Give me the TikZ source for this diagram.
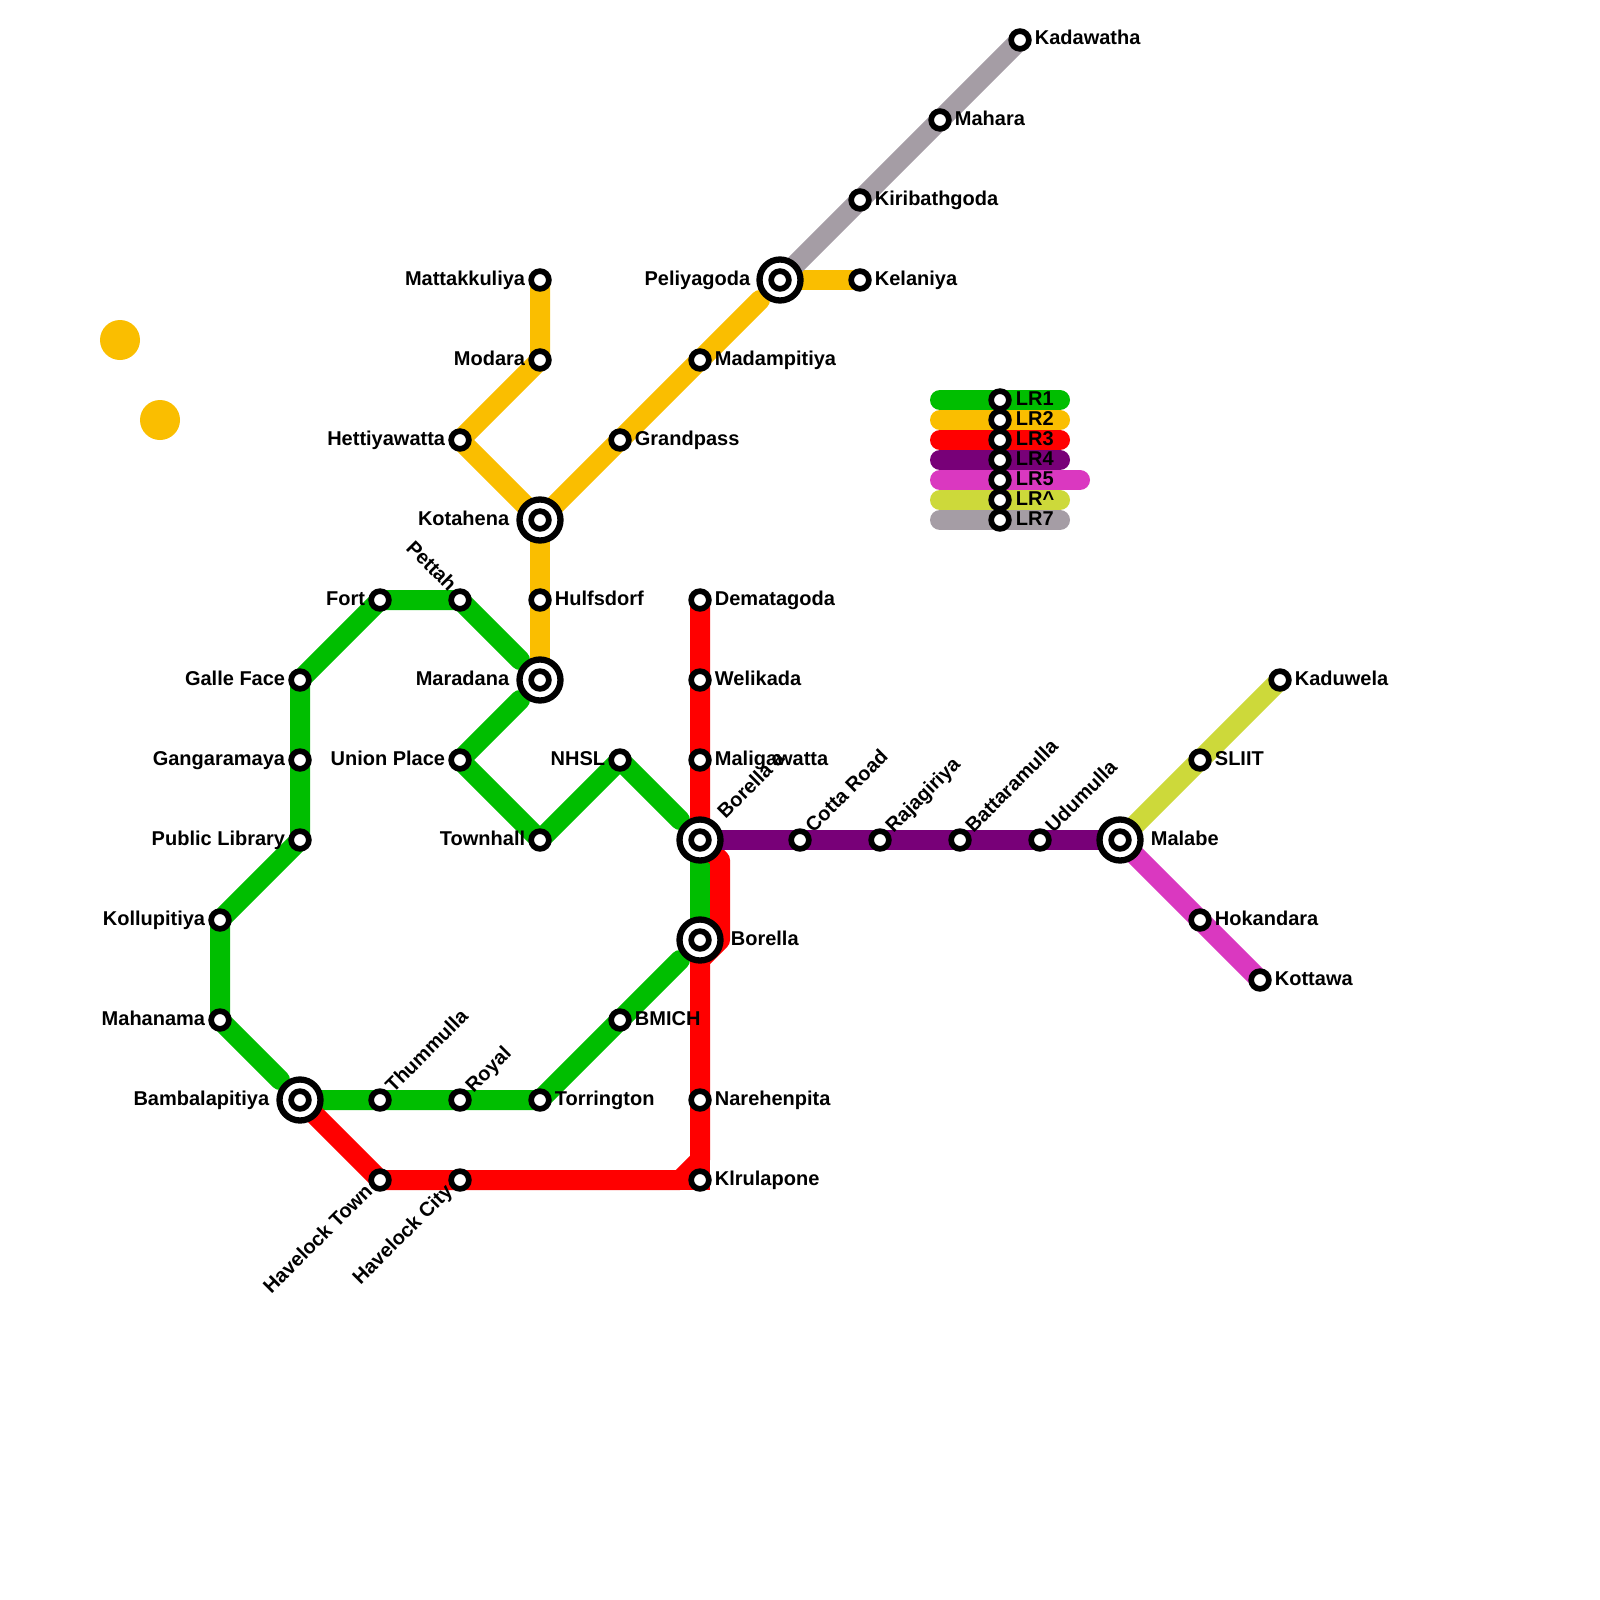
\documentclass[tikz,border=0pt]{standalone}
\usepackage{fontspec}
\setmainfont{Liberation Sans}
\usepackage{xcolor}
\definecolor{cLrA}{HTML}{00BE00}
\definecolor{cLrB}{HTML}{FABE00}
\definecolor{cLrC}{HTML}{FF0000}
\definecolor{cLrD}{HTML}{780078}
\definecolor{cLrE}{HTML}{DA38C0}
\definecolor{cLrF}{HTML}{CDD93A}
\definecolor{cLrG}{HTML}{A59DA5}
\usetikzlibrary{positioning, backgrounds}

\begin{document}
\begin{tikzpicture}[
    x=20pt, y=-20pt,
    line/.style  = {line width=20pt, line cap=round, line join=round},
    stn/.style   = {circle, draw=black, fill=white, line width=5.7pt,
                    minimum size=17.7pt, inner sep=0pt},
    hub/.style   = {circle, draw=black, fill=white, line width=6.3pt,
                    minimum size=41pt, inner sep=0pt},
    dot/.style   = {circle, fill=cLrB, minimum size=40pt, inner sep=0pt},
    txt/.style   = {font=\bfseries\fontsize{20}{24}\selectfont, inner sep=0pt,
                    text height=14pt, text depth=4pt},
    up/.style    = {txt, rotate=45, anchor=west},
    dn/.style    = {txt, rotate=45, anchor=east},
    back/.style  = {txt, rotate=-45, anchor=east}
]
\useasboundingbox (0,0) rectangle (80,80);

% --- Stations: LR1 ---------------------------------------------------------
\node[hub] (bamb)  at (15,55) {};
\node[stn] (thum)  at (19,55) {};
\node[stn] (roya)  at (23,55) {};
\node[stn] (torr)  at (27,55) {};
\node[stn] (bmic)  at (31,51) {};
\node[hub] (bora)  at (35,47) {};
\node[hub] (borb)  at (35,42) {};
\node[stn] (nhsl)  at (31,38) {};
\node[stn] (town)  at (27,42) {};
\node[stn] (unio)  at (23,38) {};
\node[hub] (mara)  at (27,34) {};
\node[stn] (pett)  at (23,30) {};
\node[stn] (fort)  at (19,30) {};
\node[stn] (gall)  at (15,34) {};
\node[stn] (gang)  at (15,38) {};
\node[stn] (publ)  at (15,42) {};
\node[stn] (koll)  at (11,46) {};
\node[stn] (maha)  at (11,51) {};

% --- Stations: LR2 and LR7 -------------------------------------------------
\node[stn] (matt)  at (27,14) {};
\node[stn] (moda)  at (27,18) {};
\node[stn] (hett)  at (23,22) {};
\node[hub] (kota)  at (27,26) {};
\node[stn] (hulf)  at (27,30) {};
\node[stn] (gran)  at (31,22) {};
\node[stn] (mada)  at (35,18) {};
\node[hub] (peli)  at (39,14) {};
\node[stn] (kela)  at (43,14) {};
\node[stn] (kiri)  at (43,10) {};
\node[stn] (mahr)  at (47,6)  {};
\node[stn] (kada)  at (51,2)  {};

% --- Stations: LR3 and LR4 -------------------------------------------------
\node[stn] (dema)  at (35,30) {};
\node[stn] (weli)  at (35,34) {};
\node[stn] (mali)  at (35,38) {};
\node[stn] (nare)  at (35,55) {};
\node[stn] (klru)  at (35,59) {};
\node[stn] (havc)  at (23,59) {};
\node[stn] (havt)  at (19,59) {};
\node[stn] (cott)  at (40,42) {};
\node[stn] (raja)  at (44,42) {};
\node[stn] (batt)  at (48,42) {};
\node[stn] (udum)  at (52,42) {};
\node[hub] (mala)  at (56,42) {};

% --- Stations: LR5 and LR^ -------------------------------------------------
\node[stn] (hoka)  at (60,46) {};
\node[stn] (kott)  at (63,49) {};
\node[stn] (slii)  at (60,38) {};
\node[stn] (kadu)  at (64,34) {};

% --- Key -------------------------------------------------------------------
\node[stn] (keya)  at (50,20) {};
\node[stn] (keyb)  at (50,21) {};
\node[stn] (keyc)  at (50,22) {};
\node[stn] (keyd)  at (50,23) {};
\node[stn] (keye)  at (50,24) {};
\node[stn] (keyf)  at (50,25) {};
\node[stn] (keyg)  at (50,26) {};

% --- Inner rings of the interchanges ---------------------------------------
\node[stn] (bambi) at (bamb) {};
\node[stn] (borai) at (bora) {};
\node[stn] (borbi) at (borb) {};
\node[stn] (marai) at (mara) {};
\node[stn] (kotai) at (kota) {};
\node[stn] (pelii) at (peli) {};
\node[stn] (malai) at (mala) {};

% --- Free ends of the segments ---------------------------------------------
\coordinate (bambe) at (14,54);
\coordinate (borae) at (34,48);
\coordinate (borbe) at (34,41);
\coordinate (marau) at (26,33);
\coordinate (marad) at (26,35);
\coordinate (pelie) at (38,15);
\coordinate (redta) at (36,43);
\coordinate (redtb) at (36,47);
\coordinate (redtc) at (35,48);
\coordinate (redbc) at (35,58);
\coordinate (redbd) at (34,59);

% --- Two loose dots --------------------------------------------------------
\node[dot] (dota) at (6,17) {};
\node[dot] (dotb) at (8,21) {};

% --- Lines (under the stations) --------------------------------------------
\begin{scope}[on background layer]
  % LR1 runs in three pieces, stopping short of the rings
  \draw[line, cLrA] (bamb.center) -- (torr.center) -- (bmic.center) -- (borae);
  \draw[line, cLrA] (bora.center) -- (borb.center);
  \draw[line, cLrA] (borbe) -- (nhsl.center) -- (town.center) -- (unio.center) -- (marad);
  \draw[line, cLrA] (marau) -- (pett.center) -- (fort.center) -- (gall.center)
    -- (publ.center) -- (koll.center) -- (maha.center) -- (bambe);
  % LR2
  \draw[line, cLrB] (matt.center) -- (moda.center) -- (hett.center) -- (kota.center);
  \draw[line, cLrB] (kota.center) -- (mara.center);
  \draw[line, cLrB] (kota.center) -- (gran.center) -- (mada.center) -- (pelie);
  \draw[line, cLrB] (peli.center) -- (kela.center);
  % LR7
  \draw[line, cLrG] (peli.center) -- (kiri.center) -- (kada.center);
  % LR3, the square corner at the bottom comes separately
  \draw[line, cLrC] (dema.center) -- (borb.center) -- (redta) -- (redtb) -- (redtc)
    -- (redbc) -- (redbd) -- (havt.center) -- (bamb.center);
  \draw[cLrC, line width=20pt, line join=miter] (redbc) -- (klru.center) -- (redbd);
  % LR4, LR5, LR^
  \draw[line, cLrD] (borb.center) -- (mala.center);
  \draw[line, cLrE] (mala.center) -- (kott.center);
  \draw[line, cLrF] (mala.center) -- (kadu.center);
  % key bars
  \draw[line, cLrA] ([xshift=-60pt]keya.center) -- ([xshift=60pt]keya.center);
  \draw[line, cLrB] ([xshift=-60pt]keyb.center) -- ([xshift=60pt]keyb.center);
  \draw[line, cLrC] ([xshift=-60pt]keyc.center) -- ([xshift=60pt]keyc.center);
  \draw[line, cLrD] ([xshift=-60pt]keyd.center) -- ([xshift=60pt]keyd.center);
  \draw[line, cLrE] ([xshift=-60pt]keye.center) -- ([xshift=80pt]keye.center);
  \draw[line, cLrF] ([xshift=-60pt]keyf.center) -- ([xshift=60pt]keyf.center);
  \draw[line, cLrG] ([xshift=-60pt]keyg.center) -- ([xshift=60pt]keyg.center);
\end{scope}

% --- Labels: to the left ---------------------------------------------------
\node[txt, left=3pt of fort] (fortt) {Fort};
\node[txt, left=3pt of gall] (gallt) {Galle Face};
\node[txt, left=3pt of gang] (gangt) {Gangaramaya};
\node[txt, left=3pt of publ] (publt) {Public Library};
\node[txt, left=3pt of koll] (kollt) {Kollupitiya};
\node[txt, left=3pt of maha] (mahat) {Mahanama};
\node[txt, left=7pt of bamb] (bambt) {Bambalapitiya};
\node[txt, left=3pt of matt] (mattt) {Mattakkuliya};
\node[txt, left=3pt of moda] (modat) {Modara};
\node[txt, left=3pt of hett] (hettt) {Hettiyawatta};
\node[txt, left=7pt of kota] (kotat) {Kotahena};
\node[txt, left=7pt of mara] (marat) {Maradana};
\node[txt, left=3pt of unio] (uniot) {Union Place};
\node[txt, left=3pt of town] (townt) {Townhall};
\node[txt, left=3pt of nhsl] (nhslt) {NHSL};
\node[txt, left=6pt of peli] (pelit) {Peliyagoda};

% --- Labels: to the right --------------------------------------------------
\node[txt, right=3pt of hulf] (hulft) {Hulfsdorf};
\node[txt, right=3pt of gran] (grant) {Grandpass};
\node[txt, right=3pt of mada] (madat) {Madampitiya};
\node[txt, right=3pt of kela] (kelat) {Kelaniya};
\node[txt, right=3pt of kiri] (kirit) {Kiribathgoda};
\node[txt, right=3pt of mahr] (mahrt) {Mahara};
\node[txt, right=3pt of kada] (kadat) {Kadawatha};
\node[txt, right=3pt of dema] (demat) {Dematagoda};
\node[txt, right=3pt of weli] (welit) {Welikada};
\node[txt, right=3pt of mali] (malit) {Maligawatta};
\node[txt, right=7pt of bora] (borat) {Borella};
\node[txt, right=3pt of bmic] (bmict) {BMICH};
\node[txt, right=3pt of torr] (torrt) {Torrington};
\node[txt, right=3pt of nare] (naret) {Narehenpita};
\node[txt, right=3pt of klru] (klrut) {Klrulapone};
\node[txt, right=7pt of mala] (malat) {Malabe};
\node[txt, right=3pt of hoka] (hokat) {Hokandara};
\node[txt, right=3pt of kott] (kottt) {Kottawa};
\node[txt, right=3pt of slii] (sliit) {SLIIT};
\node[txt, right=3pt of kadu] (kadut) {Kaduwela};

% --- Labels: slanted -------------------------------------------------------
\node[up] (thumt) at ([shift={(10pt,10pt)}]thum.center) {Thummulla};
\node[up] (royat) at ([shift={(10pt,10pt)}]roya.center) {Royal};
\node[up] (cottt) at ([shift={(10pt,10pt)}]cott.center) {Cotta Road};
\node[up] (rajat) at ([shift={(10pt,10pt)}]raja.center) {Rajagiriya};
\node[up] (battt) at ([shift={(10pt,10pt)}]batt.center) {Battaramulla};
\node[up] (udumt) at ([shift={(10pt,10pt)}]udum.center) {Udumulla};
\node[up] (borbt) at ([shift={(22pt,24pt)}]borb.center) {Borella a};
\node[dn] (havtt) at ([shift={(-10pt,-9pt)}]havt.center) {Havelock Town};
\node[dn] (havct) at ([shift={(-10pt,-9pt)}]havc.center) {Havelock City};
\node[back] (pettt) at ([shift={(-8pt,11pt)}]pett.center) {Pettah};

% --- Labels: key -----------------------------------------------------------
\node[txt, right=4pt of keya] (keyat) {LR1};
\node[txt, right=4pt of keyb] (keybt) {LR2};
\node[txt, right=4pt of keyc] (keyct) {LR3};
\node[txt, right=4pt of keyd] (keydt) {LR4};
\node[txt, right=4pt of keye] (keyet) {LR5};
\node[txt, right=4pt of keyf] (keyft) {LR\^{}};
\node[txt, right=4pt of keyg] (keygt) {LR7};
\end{tikzpicture}
\end{document}
